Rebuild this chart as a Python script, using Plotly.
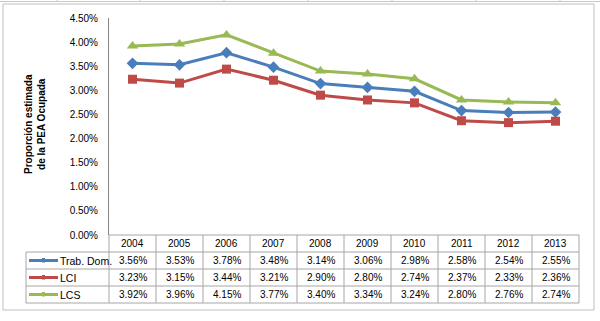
import plotly.graph_objects as go

years = ["2004", "2005", "2006", "2007", "2008", "2009", "2010", "2011", "2012", "2013"]
trab_dom = [3.56, 3.53, 3.78, 3.48, 3.14, 3.06, 2.98, 2.58, 2.54, 2.55]
lci = [3.23, 3.15, 3.44, 3.21, 2.90, 2.80, 2.74, 2.37, 2.33, 2.36]
lcs = [3.92, 3.96, 4.15, 3.77, 3.40, 3.34, 3.24, 2.80, 2.76, 2.74]
series_names = ["Trab. Dom.", "LCI", "LCS"]
y_title = "Proporción estimada<br>de la PEA Ocupada"

W, H = 600, 321
L, R, T, B = 109, 579, 18, 235
PW, PH = R - L, B - T

def px(x):
    return (x - L) / PW

def py(y):
    return (B - y) / PH

FONT = "Liberation Sans, Arial, sans-serif"
series = [
    (series_names[0], trab_dom, "#4A7EBB", "diamond", 9),
    (series_names[1], lci, "#BE4B48", "square", 9),
    (series_names[2], lcs, "#98B954", "triangle-up", 10),
]

fig = go.Figure()
for name, vals, col, sym, ms in series:
    fig.add_trace(go.Scatter(
        x=list(range(len(years))), y=[v / 100 for v in vals], name=name,
        mode="lines+markers", line=dict(color=col, width=3),
        marker=dict(symbol=sym, size=ms, color=col), showlegend=False))

shapes = []
annotations = []
grid = "#A6A6A6"
# outer chart border
shapes.append(dict(type="rect", xref="paper", yref="paper", x0=px(3), x1=px(594), y0=py(4), y1=py(310),
                   line=dict(color="#BFBFBF", width=1)))
# spreadsheet line on top
shapes.append(dict(type="line", xref="paper", yref="paper", x0=px(0), x1=px(600), y0=py(1.5), y1=py(1.5),
                   line=dict(color="#C8C8C8", width=1)))
for sx in [57, 140, 224, 308, 392, 476, 560]:
    shapes.append(dict(type="line", xref="paper", yref="paper", x0=px(sx), x1=px(sx), y0=py(0), y1=py(2),
                       line=dict(color="#C8C8C8", width=1)))

rows_y = [235, 252, 269, 286, 303]
# horizontal table lines
shapes.append(dict(type="line", xref="paper", yref="paper", x0=px(L), x1=px(R), y0=py(rows_y[0]), y1=py(rows_y[0]),
                   line=dict(color=grid, width=1)))
for ry in rows_y[1:]:
    shapes.append(dict(type="line", xref="paper", yref="paper", x0=px(26), x1=px(R), y0=py(ry), y1=py(ry),
                       line=dict(color=grid, width=1)))
# vertical table lines
shapes.append(dict(type="line", xref="paper", yref="paper", x0=px(26), x1=px(26), y0=py(rows_y[1]), y1=py(rows_y[4]),
                   line=dict(color=grid, width=1)))
for i in range(len(years) + 1):
    vx = px(L + i * PW / len(years))
    shapes.append(dict(type="line", xref="paper", yref="paper", x0=vx, x1=vx, y0=py(rows_y[0]), y1=py(rows_y[4]),
                       line=dict(color=grid, width=1)))

# header years
for i, yr in enumerate(years):
    annotations.append(dict(x=i, xref="x", y=py((rows_y[0] + rows_y[1]) / 2), yref="paper", text=yr,
                            xanchor="center", yanchor="middle",
                            showarrow=False, font=dict(family=FONT, size=10, color="#000")))
# table values and legend keys
for r, (name, vals, col, sym, ms) in enumerate(series):
    cy = (rows_y[r + 1] + rows_y[r + 2]) / 2
    for i, v in enumerate(vals):
        annotations.append(dict(x=i, xref="x", y=py(cy), yref="paper", text=f"{v:.2f}%",
                                xanchor="center", yanchor="middle",
                                showarrow=False, font=dict(family=FONT, size=10, color="#000")))
    shapes.append(dict(type="line", xref="paper", yref="paper", x0=px(29), x1=px(58), y0=py(cy), y1=py(cy),
                       line=dict(color=col, width=3)))
    shapes.append(dict(type="rect", xref="paper", yref="paper", x0=px(42), x1=px(45), y0=py(cy + 2), y1=py(cy - 2.5),
                       line=dict(width=0), fillcolor=col))
    annotations.append(dict(x=px(58), xref="paper", y=py(cy), yref="paper", text=name,
                            xanchor="left", yanchor="middle",
                            showarrow=False, font=dict(family=FONT, size=10.5, color="#000")))

annotations.append(dict(x=px(35), xref="paper", y=py(124), yref="paper", text="<b>" + y_title + "</b>",
                        xanchor="center", yanchor="middle",
                        textangle=-90, showarrow=False, font=dict(family=FONT, size=10, color="#000")))

fig.update_layout(
    width=W, height=H, margin=dict(l=L, r=W - R, t=T, b=H - B),
    paper_bgcolor="white", plot_bgcolor="white",
    xaxis=dict(range=[-0.5, len(years) - 0.5], showticklabels=False, showgrid=False, zeroline=False,
               showline=False, ticks=""),
    yaxis=dict(range=[0, 0.045], dtick=0.005, tickformat=".2%", showgrid=False, zeroline=False,
               showline=True, linecolor="#868686", linewidth=1, ticks="", ticklen=0,
               tickfont=dict(family=FONT, size=10, color="#000"), ticklabelstandoff=8),
    shapes=shapes, annotations=annotations,
)
fig.write_html("out.html")
